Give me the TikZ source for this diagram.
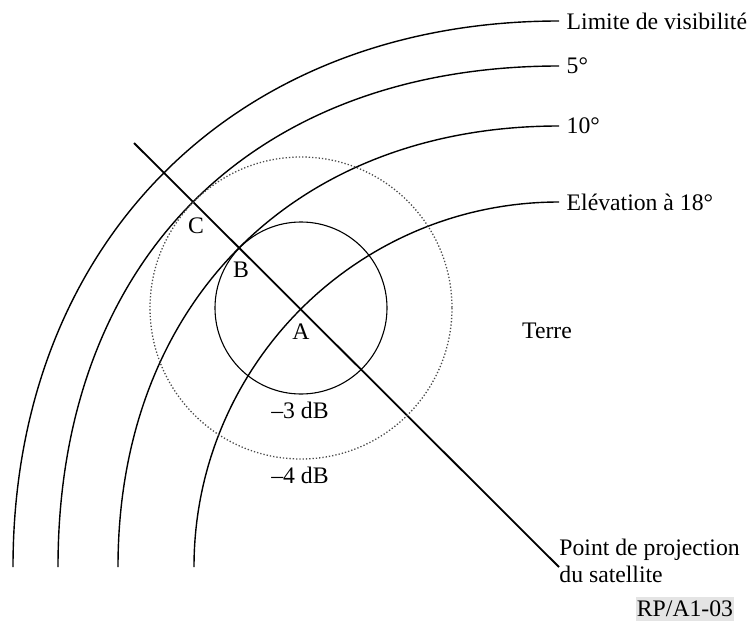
\documentclass[tikz,border=0pt]{standalone}
\usepackage{fontspec}
\setmainfont{Liberation Serif}
\usepackage{tikz}
\usetikzlibrary{calc}
\definecolor{dotgrey}{HTML}{4A4A4A}
\definecolor{tagfill}{HTML}{E4E4E4}

\begin{document}
\begin{tikzpicture}[x=0.5pt,y=-0.5pt,font=\fontsize{11.85}{13.5}\selectfont,
  contour/.style={line width=0.7pt},
  lbl/.style={anchor=west,inner sep=3.5pt}]
  \useasboundingbox (0,0) rectangle (750,621);
  \coordinate (S) at (559,567);
  \coordinate (T) at (134,143);
  \coordinate (A) at (301,308);
  % elevation contours round the sub-satellite point
  \foreach [count=\i] \r/\k/\lab in {546/0.594/{Limite de visibilité}, 501/0.6125/{5°},
    441/0.599/{10°}, 365/0.552/{Elévation à 18°}}{
      \draw[contour] ($(S)+(-\r,0)$) .. controls ($(S)+(-\r,-\k*\r)$) and ($(S)+(-\k*\r,-\r)$) .. ($(S)+(0,-\r)$)
        node[lbl] (e\i) {\lab};
  }
  \draw[line width=0.9pt] (T) -- (S);
  \draw[line width=0.55pt] (A) circle[radius=86];
  \draw[dotgrey,densely dotted,line width=0.65pt] (A) circle[radius=151];
  \node (la) at (301,332) {A};
  \node (lb) at (241,270) {B};
  \node (lc) at (196,226) {C};
  \node (db3) at (300,410) {–3 dB};
  \node (db4) at (300,475) {–4 dB};
  \node (terre) at (547,331) {Terre};
  \node[anchor=north west,inner sep=0,align=left] (sat) at (559,539) {Point de projection\\du satellite};
  \node[fill=tagfill,inner xsep=0.5pt,inner ysep=2pt] (tag) at (685,609) {RP/A1-03};
\end{tikzpicture}
\end{document}
